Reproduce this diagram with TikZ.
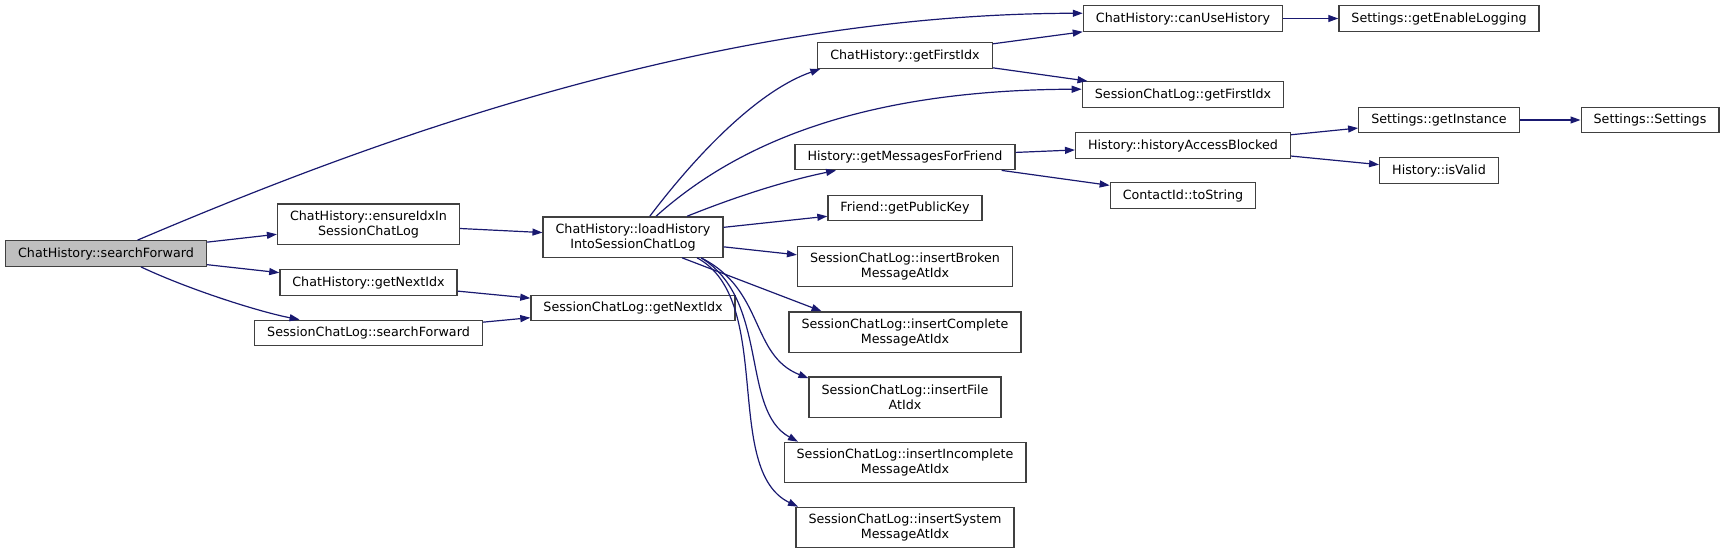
\documentclass[tikz,border=0pt]{standalone}
\usepackage{fontspec}
\setmainfont{DejaVu Sans}
\usepackage{xcolor}
\usetikzlibrary{arrows.meta}
\definecolor{edgeblue}{RGB}{25,25,112}
\definecolor{boxline}{RGB}{64,64,64}
\definecolor{rootfill}{RGB}{191,191,191}
\tikzset{
  fnbox/.style={rectangle, draw=boxline, line width=1.3pt, fill=white,
                inner xsep=12.5pt, inner ysep=2pt, minimum height=25.5pt,
                align=center, font=\fontsize{12.7}{15}\selectfont},
  twoline/.style={minimum height=40.3pt},
  rootbox/.style={fnbox, fill=rootfill},
  call/.style={-{Triangle[length=10pt, width=7pt]}, draw=edgeblue, line width=1.2pt},
}
\begin{document}
\begin{tikzpicture}[x=1pt, y=-1pt]
    \useasboundingbox (0,0) rectangle (1728,554);
    \node[rootbox] (chsf) at (106,253.5) {ChatHistory::searchForward};
    \node[fnbox, twoline] (chensure) at (368.5,224) {ChatHistory::ensureIdxIn\\SessionChatLog};
    \node[fnbox] (chnext) at (368.5,282.5) {ChatHistory::getNextIdx};
    \node[fnbox] (sclsf) at (368.5,333) {SessionChatLog::searchForward};
    \node[fnbox, twoline] (chload) at (633,237) {ChatHistory::loadHistory\\IntoSessionChatLog};
    \node[fnbox] (sclnext) at (633,308) {SessionChatLog::getNextIdx};
    \node[fnbox] (chfirst) at (905,55.5) {ChatHistory::getFirstIdx};
    \node[fnbox] (hmsgs) at (905,157) {History::getMessagesForFriend};
    \node[fnbox] (fkey) at (905,208) {Friend::getPublicKey};
    \node[fnbox, twoline] (sclbroken) at (905,266.5) {SessionChatLog::insertBroken\\MessageAtIdx};
    \node[fnbox, twoline] (sclcomplete) at (905,332) {SessionChatLog::insertComplete\\MessageAtIdx};
    \node[fnbox, twoline] (sclfile) at (905,397) {SessionChatLog::insertFile\\AtIdx};
    \node[fnbox, twoline] (sclincomplete) at (905,462.5) {SessionChatLog::insertIncomplete\\MessageAtIdx};
    \node[fnbox, twoline] (sclsystem) at (905,527.5) {SessionChatLog::insertSystem\\MessageAtIdx};
    \node[fnbox] (chcanuse) at (1183,18.5) {ChatHistory::canUseHistory};
    \node[fnbox] (sclfirst) at (1183,94.5) {SessionChatLog::getFirstIdx};
    \node[fnbox] (hblocked) at (1183,145.5) {History::historyAccessBlocked};
    \node[fnbox] (cidstr) at (1183,195.5) {ContactId::toString};
    \node[fnbox] (slog) at (1439,18.5) {Settings::getEnableLogging};
    \node[fnbox] (sinst) at (1439,120) {Settings::getInstance};
    \node[fnbox] (hvalid) at (1439,170.5) {History::isValid};
    \node[fnbox] (sctor) at (1650,120) {Settings::Settings};
    \draw[call] (chsf.23.8) .. controls (350,150) and (700,14) .. (chcanuse.177.4);
    \draw[call] (chsf) -- (chensure);
    \draw[call] (chsf) -- (chnext);
    \draw[call] (chsf.-21.3) .. controls (190,290) and (260,312) .. (sclsf.169.3);
    \draw[call] (chensure) -- (chload);
    \draw[call] (chnext) -- (sclnext);
    \draw[call] (sclsf) -- (sclnext);
    \draw[call] (chload.51.3) .. controls (700,150) and (760,90) .. (chfirst.-171.4);
    \draw[call] (chload.42.3) .. controls (730,150) and (850,90) .. (sclfirst.177.5);
    \draw[call] (chload.21.4) .. controls (730,199) and (780,182) .. (hmsgs.-169.6);
    \draw[call] (chload) -- (fkey);
    \draw[call] (chload) -- (sclbroken);
    \draw[call] (chload.-23.8) -- (sclcomplete.166.6);
    \draw[call] (chload.-17.2) .. controls (765,290) and (750,355) .. (sclfile.169.6);
    \draw[call] (chload.-17.6) .. controls (770,300) and (740,410) .. (sclincomplete.169.2);
    \draw[call] (chload.-18) .. controls (775,300) and (722,470) .. (sclsystem.169.4);
    \draw[call] (chfirst) -- (chcanuse);
    \draw[call] (chfirst) -- (sclfirst);
    \draw[call] (chcanuse) -- (slog);
    \draw[call] (hmsgs) -- (hblocked);
    \draw[call] (hmsgs) -- (cidstr);
    \draw[call] (hblocked) -- (sinst);
    \draw[call] (hblocked) -- (hvalid);
    \draw[call] (sinst) -- (sctor);
\end{tikzpicture}
\end{document}
